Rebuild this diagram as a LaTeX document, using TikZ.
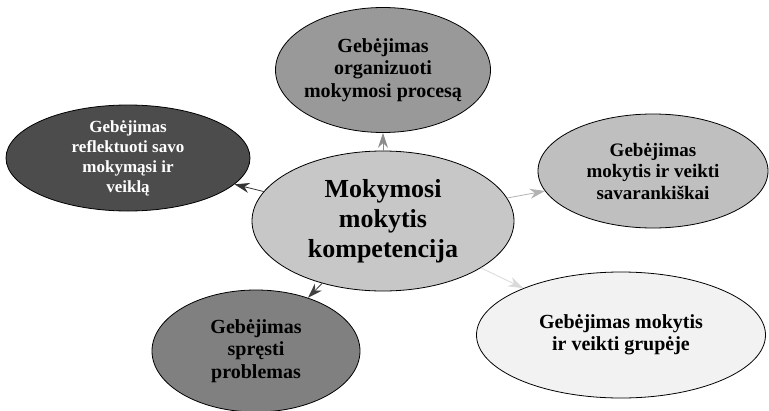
\documentclass[tikz,border=0pt]{standalone}
\usepackage{fontspec}
\setmainfont{Liberation Serif}
\usetikzlibrary{shapes.geometric,arrows.meta}

\begin{document}
\begin{tikzpicture}[x=1pt,y=-1pt]
      \useasboundingbox(0,0) rectangle (769,410);
      \tikzset{V/.style = {shape=ellipse, draw=black, line width=0.8pt, inner sep=-12pt, align=center, text=black}}
      \tikzset{E/.style = {draw, line width=0.8pt, -{Stealth[length=15pt,width=10pt]}}}
      \node[V,fill=black!22,minimum width=262,minimum height=140,font=\bfseries\fontsize{26}{30}\selectfont](m) at (383,221) {Mokymosi\\mokytis\\kompetencija};
      \node[V,fill=black!40,minimum width=215,minimum height=125,font=\bfseries\fontsize{20}{22.5}\selectfont](s1) at (383,70) {Gebėjimas\\organizuoti\\mokymosi procesą};
      \node[V,fill=black!70,text=white,minimum width=244,minimum height=106,font=\bfseries\fontsize{17}{20}\selectfont](s2) at (128,158) {Gebėjimas\\reflektuoti savo\\mokymąsi ir\\veiklą};
      \node[V,fill=black!25,minimum width=230,minimum height=114,font=\bfseries\fontsize{19}{21.5}\selectfont](s3) at (653,171) {Gebėjimas\\mokytis ir veikti\\savarankiškai};
      \node[V,fill=black!50,minimum width=208,minimum height=122,font=\bfseries\fontsize{20}{22.5}\selectfont](s4) at (256,351) {Gebėjimas\\spręsti\\problemas};
      \node[V,fill=black!5,minimum width=289,minimum height=126,font=\bfseries\fontsize{20}{22.5}\selectfont](s5) at (621,335) {Gebėjimas mokytis\\ir veikti grupėje};
      \draw[E,black!45](m) to (s1);
      \draw[E,black!80](m) to (s2);
      \draw[E,black!30](m) to (s3);
      \draw[E,black!75](m) to (s4);
      \draw[E,black!15](m) to (s5);
    \end{tikzpicture}
\end{document}
